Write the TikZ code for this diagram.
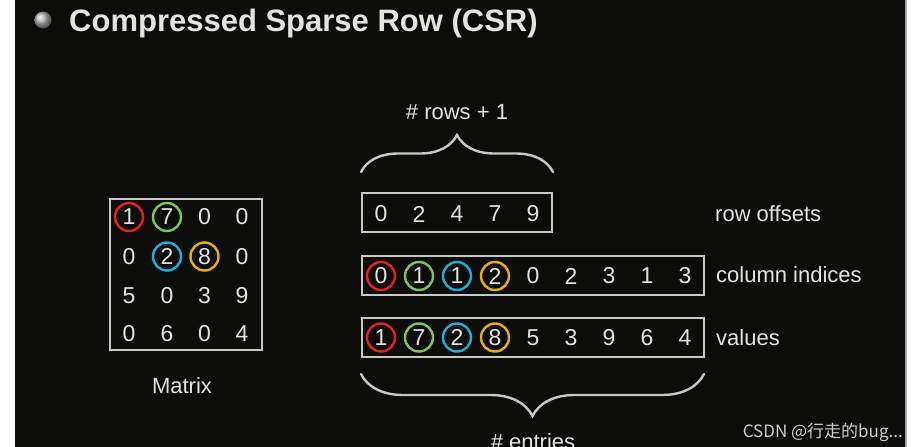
\documentclass[tikz,border=0pt]{standalone}
\usepackage{fontspec}
\setmainfont{Liberation Sans}
\newfontfamily\cjk{Noto Sans CJK SC}
\usetikzlibrary{positioning,decorations.pathreplacing,shadings}

\definecolor{slidebg}{RGB}{12,12,10}
\definecolor{txt}{RGB}{228,228,222}
\definecolor{boxline}{RGB}{200,200,194}
\definecolor{cred}{RGB}{228,36,28}
\definecolor{cgreen}{RGB}{128,196,84}
\definecolor{ccyan}{RGB}{26,176,218}
\definecolor{corange}{RGB}{236,176,0}
\definecolor{mark}{RGB}{205,205,205}

\begin{document}
\begin{tikzpicture}[x=1pt,y=-1pt,
  num/.style={text=txt,font=\fontsize{23}{23}\selectfont,inner sep=0pt},
  hl/.style={draw=#1,circle,line width=2.4pt,minimum size=28pt,inner sep=0pt},
  lab/.style={text=txt,font=\fontsize{22}{22}\selectfont,inner sep=0pt},
  arraybox/.style={draw=boxline,line width=1.8pt,inner sep=0pt},
  brc/.style={draw=boxline,line width=2.4pt,line cap=round,decorate,
    decoration={brace,amplitude=#1,aspect=0.5}}]
  % slide
  \useasboundingbox (0,0) rectangle (911,447);
  \fill[white] (0,0) rectangle (911,447);
  \fill[slidebg] (15,0) rectangle (905,447);
  \fill[gray!70] (905,0) rectangle (907,447);
  % title
  \shade[ball color=gray!55] (43,20) circle (8.5);
  \node[text=txt,font=\fontsize{31}{31}\selectfont\bfseries,anchor=base west,inner sep=0pt]
    (title) at (69,31) {Compressed Sparse Row (CSR)};
  % matrix
  \node[arraybox,minimum width=152,minimum height=151] (mat) at (186,274.5) {};
  \foreach \r/\y/\a/\b/\c/\d in {1/217/1/7/0/0,2/256.5/0/2/8/0,3/296/5/0/3/9,4/334/0/6/0/4}{
    \node[num] (m\r1) at (129,\y) {\a};
    \node[num] (m\r2) at (167,\y) {\b};
    \node[num] (m\r3) at (204.5,\y) {\c};
    \node[num] (m\r4) at (242,\y) {\d};
  }
  \foreach \n/\col in {m11/cred,m12/cgreen,m22/ccyan,m23/corange}
    \node[hl=\col] (h\n) at (\n.center) {};
  \node[lab,anchor=base] (matlab) at (182,393) {Matrix};
  % row offsets
  \node[arraybox,minimum width=190,minimum height=39] (rowoff) at (457,212.5) {};
  \foreach \i/\v in {1/0,2/2,3/4,4/7,5/9}
    \node[num] (r\i) at (343+38*\i,214) {\v};
  % column indices
  \node[arraybox,minimum width=342,minimum height=39] (colidx) at (533,275.5) {};
  \foreach \i/\v in {1/0,2/1,3/1,4/2,5/0,6/2,7/3,8/1,9/3}
    \node[num] (c\i) at (343+38*\i,276) {\v};
  % values
  \node[arraybox,minimum width=342,minimum height=39] (vals) at (533,337.5) {};
  \foreach \i/\v in {1/1,2/7,3/2,4/8,5/5,6/3,7/9,8/6,9/4}
    \node[num] (v\i) at (343+38*\i,337.5) {\v};
  \foreach \n/\col in {c1/cred,c2/cgreen,c3/ccyan,c4/corange,v1/cred,v2/cgreen,v3/ccyan,v4/corange}
    \node[hl=\col] (h\n) at (\n.center) {};
  % labels
  \node[lab,anchor=base west] (rowlab) at (715,221) {row offsets};
  \node[lab,anchor=base west] (collab) at (716,282) {column indices};
  \node[lab,anchor=base west] (vallab) at (716,345) {values};
  % braces
  \coordinate (ta) at (361,172);
  \coordinate (tb) at (553,172);
  \draw[brc=37pt] (ta) -- (tb);
  \node[lab,anchor=base] (rowsone) at (457,119) {\# rows + 1};
  \coordinate (ba) at (704,374);
  \coordinate (bb) at (361,374);
  \draw[brc=42pt] (ba) -- (bb);
  \node[lab,anchor=base] (entries) at (533,449) {\# entries};
  % watermark
  \node[text=mark,font=\cjk\fontsize{17}{17}\selectfont,anchor=base east,inner sep=0pt]
    (wm) at (903,437) {CSDN @行走的bug...};
\end{tikzpicture}
\end{document}
